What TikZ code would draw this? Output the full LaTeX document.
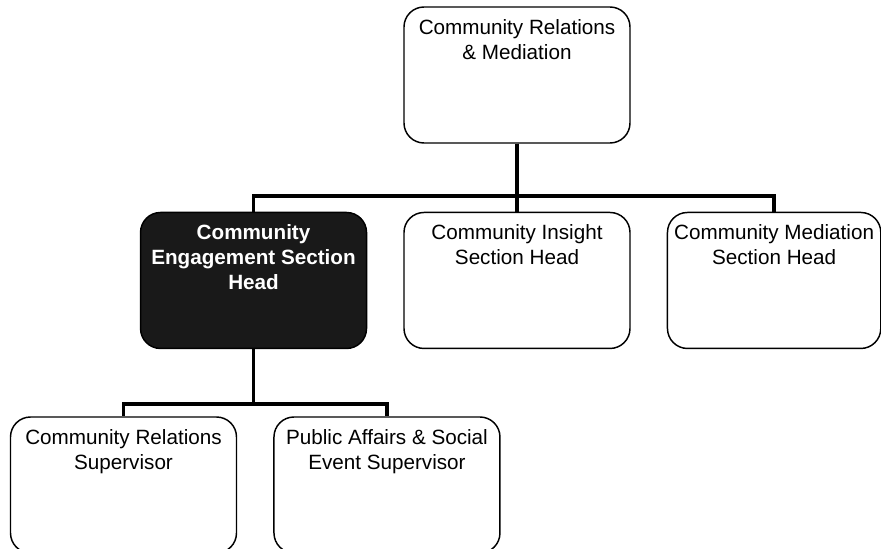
\documentclass[tikz,border=0pt]{standalone}
\usepackage{fontspec}
\setmainfont{Liberation Sans}
\usetikzlibrary{positioning}

\begin{document}
\begin{tikzpicture}[
            x=0.75pt,y=-0.75pt,
            node distance=27pt,
            orgbox/.style={rectangle,draw,rounded corners=15pt,line width=1.1pt,minimum width=169.5pt,minimum height=102pt,inner sep=0pt},
            headbox/.style={orgbox,fill=black!90},
            boxtext/.style={anchor=north,align=center,inner sep=0pt,yshift=-9.5pt,font=\fontsize{15.5}{18.75}\selectfont},
            headtext/.style={boxtext,text=white,font=\fontsize{15.5}{18.75}\selectfont\bfseries},
            link/.style={line width=2.7pt}
        ]
        \fill[white] (0,0) rectangle (881,549);
        \useasboundingbox (0,0) rectangle (881,549);
        \node[orgbox] (crm) at (517,75) {};
        \node[orgbox,below=51pt of crm] (cis) {};
        \node[headbox,left=of cis] (ces) {};
        \node[orgbox,right=of cis,minimum width=160pt] (cms) {};
        \node[orgbox] (crs) at (123.5,485) {};
        \node[orgbox,right=of crs] (pas) {};

        \node[boxtext] (crm text) at (crm.north) {Community Relations\\ \& Mediation};
        \node[headtext] (ces text) at (ces.north) {Community\\ Engagement Section\\ Head};
        \node[boxtext] (cis text) at (cis.north) {Community Insight\\ Section Head};
        \node[boxtext] (cms text) at (cms.north) {Community Mediation\\ Section Head};
        \node[boxtext] (crs text) at (crs.north) {Community Relations\\ Supervisor};
        \node[boxtext] (pas text) at (pas.north) {Public Affairs \& Social\\ Event Supervisor};

        \draw[link] (crm.south) -- (cis.north);
        \draw[link] (crm.south) -- ++(0,52) -| (ces.north);
        \draw[link] (crm.south) -- ++(0,52) -| (cms.north);
        \draw[link] (ces.south) -- ++(0,55) -| (crs.north);
        \draw[link] (ces.south) -- ++(0,55) -| (pas.north);
\end{tikzpicture}
\end{document}
